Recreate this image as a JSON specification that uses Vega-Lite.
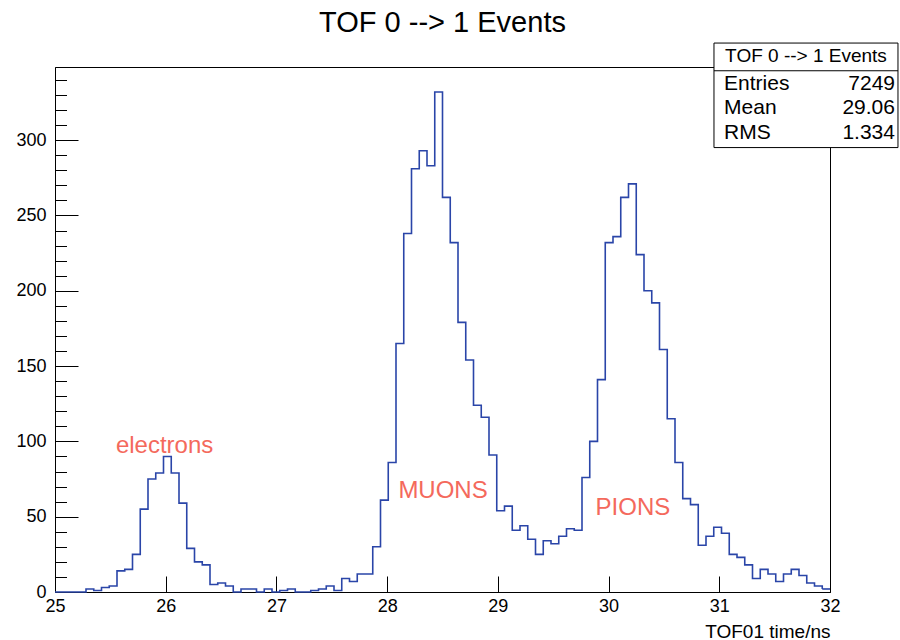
{
  "$schema": "https://vega.github.io/schema/vega-lite/v6.json",
  "width": 775,
  "height": 525,
  "autosize": {"type": "none"},
  "padding": {"left": 55, "top": 67, "right": 70, "bottom": 48},
  "background": "white",
  "config": {
    "view": {"stroke": "black", "strokeWidth": 1},
    "font": "Liberation Sans",
    "text": {"font": "Liberation Sans"}
  },
  "title": {
    "text": "TOF 0 --> 1 Events",
    "font": "Liberation Sans",
    "fontSize": 29,
    "fontWeight": "normal",
    "color": "black",
    "anchor": "middle",
    "baseline": "alphabetic",
    "offset": 10,
    "dy": 28
  },
  "datasets": {
    "hist": [
      {"lo": 25.00, "hi": 25.07, "n": 0},
      {"lo": 25.07, "hi": 25.14, "n": 0},
      {"lo": 25.14, "hi": 25.21, "n": 0},
      {"lo": 25.21, "hi": 25.28, "n": 0},
      {"lo": 25.28, "hi": 25.35, "n": 2},
      {"lo": 25.35, "hi": 25.42, "n": 1},
      {"lo": 25.42, "hi": 25.49, "n": 3},
      {"lo": 25.49, "hi": 25.56, "n": 4},
      {"lo": 25.56, "hi": 25.63, "n": 14},
      {"lo": 25.63, "hi": 25.70, "n": 15},
      {"lo": 25.70, "hi": 25.77, "n": 25},
      {"lo": 25.77, "hi": 25.84, "n": 55},
      {"lo": 25.84, "hi": 25.91, "n": 75},
      {"lo": 25.91, "hi": 25.98, "n": 79},
      {"lo": 25.98, "hi": 26.05, "n": 90},
      {"lo": 26.05, "hi": 26.12, "n": 79},
      {"lo": 26.12, "hi": 26.19, "n": 59},
      {"lo": 26.19, "hi": 26.26, "n": 29},
      {"lo": 26.26, "hi": 26.33, "n": 20},
      {"lo": 26.33, "hi": 26.40, "n": 18},
      {"lo": 26.40, "hi": 26.47, "n": 5},
      {"lo": 26.47, "hi": 26.54, "n": 6},
      {"lo": 26.54, "hi": 26.61, "n": 4},
      {"lo": 26.61, "hi": 26.68, "n": 0},
      {"lo": 26.68, "hi": 26.75, "n": 2},
      {"lo": 26.75, "hi": 26.82, "n": 2},
      {"lo": 26.82, "hi": 26.89, "n": 0},
      {"lo": 26.89, "hi": 26.96, "n": 2},
      {"lo": 26.96, "hi": 27.03, "n": 0},
      {"lo": 27.03, "hi": 27.10, "n": 1},
      {"lo": 27.10, "hi": 27.17, "n": 2},
      {"lo": 27.17, "hi": 27.24, "n": 0},
      {"lo": 27.24, "hi": 27.31, "n": 0},
      {"lo": 27.31, "hi": 27.38, "n": 1},
      {"lo": 27.38, "hi": 27.45, "n": 2},
      {"lo": 27.45, "hi": 27.52, "n": 4},
      {"lo": 27.52, "hi": 27.59, "n": 1},
      {"lo": 27.59, "hi": 27.66, "n": 9},
      {"lo": 27.66, "hi": 27.73, "n": 7},
      {"lo": 27.73, "hi": 27.80, "n": 12},
      {"lo": 27.80, "hi": 27.87, "n": 12},
      {"lo": 27.87, "hi": 27.94, "n": 30},
      {"lo": 27.94, "hi": 28.01, "n": 61},
      {"lo": 28.01, "hi": 28.08, "n": 86},
      {"lo": 28.08, "hi": 28.15, "n": 165},
      {"lo": 28.15, "hi": 28.22, "n": 238},
      {"lo": 28.22, "hi": 28.29, "n": 281},
      {"lo": 28.29, "hi": 28.36, "n": 293},
      {"lo": 28.36, "hi": 28.43, "n": 283},
      {"lo": 28.43, "hi": 28.50, "n": 332},
      {"lo": 28.50, "hi": 28.57, "n": 262},
      {"lo": 28.57, "hi": 28.64, "n": 232},
      {"lo": 28.64, "hi": 28.71, "n": 179},
      {"lo": 28.71, "hi": 28.78, "n": 154},
      {"lo": 28.78, "hi": 28.85, "n": 124},
      {"lo": 28.85, "hi": 28.92, "n": 116},
      {"lo": 28.92, "hi": 28.99, "n": 91},
      {"lo": 28.99, "hi": 29.06, "n": 54},
      {"lo": 29.06, "hi": 29.13, "n": 57},
      {"lo": 29.13, "hi": 29.20, "n": 41},
      {"lo": 29.20, "hi": 29.27, "n": 44},
      {"lo": 29.27, "hi": 29.34, "n": 35},
      {"lo": 29.34, "hi": 29.41, "n": 25},
      {"lo": 29.41, "hi": 29.48, "n": 34},
      {"lo": 29.48, "hi": 29.55, "n": 32},
      {"lo": 29.55, "hi": 29.62, "n": 37},
      {"lo": 29.62, "hi": 29.69, "n": 42},
      {"lo": 29.69, "hi": 29.76, "n": 41},
      {"lo": 29.76, "hi": 29.83, "n": 76},
      {"lo": 29.83, "hi": 29.90, "n": 100},
      {"lo": 29.90, "hi": 29.97, "n": 141},
      {"lo": 29.97, "hi": 30.04, "n": 232},
      {"lo": 30.04, "hi": 30.11, "n": 236},
      {"lo": 30.11, "hi": 30.18, "n": 262},
      {"lo": 30.18, "hi": 30.25, "n": 271},
      {"lo": 30.25, "hi": 30.32, "n": 224},
      {"lo": 30.32, "hi": 30.39, "n": 200},
      {"lo": 30.39, "hi": 30.46, "n": 192},
      {"lo": 30.46, "hi": 30.53, "n": 161},
      {"lo": 30.53, "hi": 30.60, "n": 115},
      {"lo": 30.60, "hi": 30.67, "n": 86},
      {"lo": 30.67, "hi": 30.74, "n": 62},
      {"lo": 30.74, "hi": 30.81, "n": 58},
      {"lo": 30.81, "hi": 30.88, "n": 31},
      {"lo": 30.88, "hi": 30.95, "n": 37},
      {"lo": 30.95, "hi": 31.02, "n": 43},
      {"lo": 31.02, "hi": 31.09, "n": 39},
      {"lo": 31.09, "hi": 31.16, "n": 25},
      {"lo": 31.16, "hi": 31.23, "n": 23},
      {"lo": 31.23, "hi": 31.30, "n": 18},
      {"lo": 31.30, "hi": 31.37, "n": 9},
      {"lo": 31.37, "hi": 31.44, "n": 15},
      {"lo": 31.44, "hi": 31.51, "n": 12},
      {"lo": 31.51, "hi": 31.58, "n": 7},
      {"lo": 31.58, "hi": 31.65, "n": 12},
      {"lo": 31.65, "hi": 31.72, "n": 15},
      {"lo": 31.72, "hi": 31.79, "n": 11},
      {"lo": 31.79, "hi": 31.86, "n": 6},
      {"lo": 31.86, "hi": 31.93, "n": 4},
      {"lo": 31.93, "hi": 32.00, "n": 2}
    ],
    "notes": [
      {"x": 25.99, "y": 97, "label": "electrons"},
      {"x": 28.505, "y": 67, "label": "MUONS"},
      {"x": 30.22, "y": 56, "label": "PIONS"}
    ],
    "statbox": [
      {"x0": 30.952, "x1": 32.614, "y0": 295.1, "y1": 364.5, "ysep": 346.1}
    ],
    "stats": [
      {"name": "Entries", "value": "7249", "y": 337.2},
      {"name": "Mean", "value": "29.06", "y": 321.7},
      {"name": "RMS", "value": "1.334", "y": 305.1}
    ]
  },
  "layer": [
    {
      "data": {"name": "hist"},
      "mark": {"type": "line", "interpolate": "step-after", "color": "#2a45a8", "strokeWidth": 1.6},
      "encoding": {
        "x": {
          "field": "lo",
          "type": "quantitative",
          "scale": {"domain": [25, 32], "nice": false, "zero": false},
          "axis": {
            "tickCount": 40,
            "format": "d",
            "labelExpr": "abs(datum.value - round(datum.value)) < 0.001 ? datum.label : ''",
            "tickSize": {"condition": {"test": "abs(datum.value - round(datum.value)) < 0.001", "value": -16}, "value": -8},
            "tickColor": "black",
            "tickWidth": 1,
            "domainColor": "black",
            "domainWidth": 1,
            "grid": false,
            "labelFont": "Liberation Sans",
            "labelFontSize": 18,
            "labelColor": "black",
            "labelPadding": 21,
            "labelFlush": false,
            "labelOverlap": false,
            "title": "TOF01 time/ns",
            "titleFont": "Liberation Sans",
            "titleFontSize": 19,
            "titleFontWeight": "normal",
            "titleColor": "black",
            "titleAnchor": "end",
            "titleAlign": "right",
            "titleBaseline": "alphabetic",
            "titleX": 775,
            "titleY": 45
          }
        },
        "y": {
          "field": "n",
          "type": "quantitative",
          "scale": {"domain": [0, 348.6], "nice": false, "zero": true},
          "axis": {
            "values": [0, 10, 20, 30, 40, 50, 60, 70, 80, 90, 100, 110, 120, 130, 140, 150, 160, 170, 180, 190, 200, 210, 220, 230, 240, 250, 260, 270, 280, 290, 300, 310, 320, 330, 340],
            "tickCount": 100,
            "format": "d",
            "labelExpr": "datum.value % 50 === 0 ? datum.label : ''",
            "tickSize": {"condition": {"test": "datum.value % 50 === 0", "value": -23}, "value": -11.5},
            "tickColor": "black",
            "tickWidth": 1,
            "domainColor": "black",
            "domainWidth": 1,
            "grid": false,
            "labelFont": "Liberation Sans",
            "labelFontSize": 18,
            "labelColor": "black",
            "labelPadding": 32,
            "labelFlush": false,
            "labelOverlap": false,
            "title": null
          }
        }
      }
    },
    {
      "data": {"name": "hist"},
      "transform": [{"filter": "datum.hi >= 32"}],
      "mark": {"type": "rule", "color": "#2a45a8", "strokeWidth": 1.6},
      "encoding": {
        "x": {"field": "lo", "type": "quantitative"},
        "x2": {"field": "hi"},
        "y": {"field": "n", "type": "quantitative"}
      }
    },
    {
      "data": {"name": "notes"},
      "mark": {"type": "text", "color": "#f4695c", "fontSize": 24, "align": "center", "baseline": "middle", "font": "Liberation Sans"},
      "encoding": {
        "x": {"field": "x", "type": "quantitative"},
        "y": {"field": "y", "type": "quantitative"},
        "text": {"field": "label"}
      }
    },
    {
      "data": {"name": "statbox"},
      "mark": {"type": "rect", "fill": "white", "stroke": "black", "strokeWidth": 1},
      "encoding": {
        "x": {"field": "x0", "type": "quantitative"},
        "x2": {"field": "x1"},
        "y": {"field": "y0", "type": "quantitative"},
        "y2": {"field": "y1"}
      }
    },
    {
      "data": {"name": "statbox"},
      "mark": {"type": "rule", "color": "black", "strokeWidth": 1},
      "encoding": {
        "x": {"field": "x0", "type": "quantitative"},
        "x2": {"field": "x1"},
        "y": {"field": "ysep", "type": "quantitative"}
      }
    },
    {
      "data": {"values": [{"label": "TOF 0 --> 1 Events", "x": 31.783, "y": 355.9}]},
      "mark": {"type": "text", "color": "black", "fontSize": 19, "align": "center", "baseline": "middle", "font": "Liberation Sans"},
      "encoding": {
        "x": {"field": "x", "type": "quantitative"},
        "y": {"field": "y", "type": "quantitative"},
        "text": {"field": "label"}
      }
    },
    {
      "data": {"name": "stats"},
      "mark": {"type": "text", "color": "black", "fontSize": 21, "align": "left", "baseline": "middle", "font": "Liberation Sans", "x": {"expr": "scale('x', 31.043)"}},
      "encoding": {
        "y": {"field": "y", "type": "quantitative"},
        "text": {"field": "name"}
      }
    },
    {
      "data": {"name": "stats"},
      "mark": {"type": "text", "color": "black", "fontSize": 21, "align": "right", "baseline": "middle", "font": "Liberation Sans", "x": {"expr": "scale('x', 32.587)"}},
      "encoding": {
        "y": {"field": "y", "type": "quantitative"},
        "text": {"field": "value"}
      }
    }
  ]
}
